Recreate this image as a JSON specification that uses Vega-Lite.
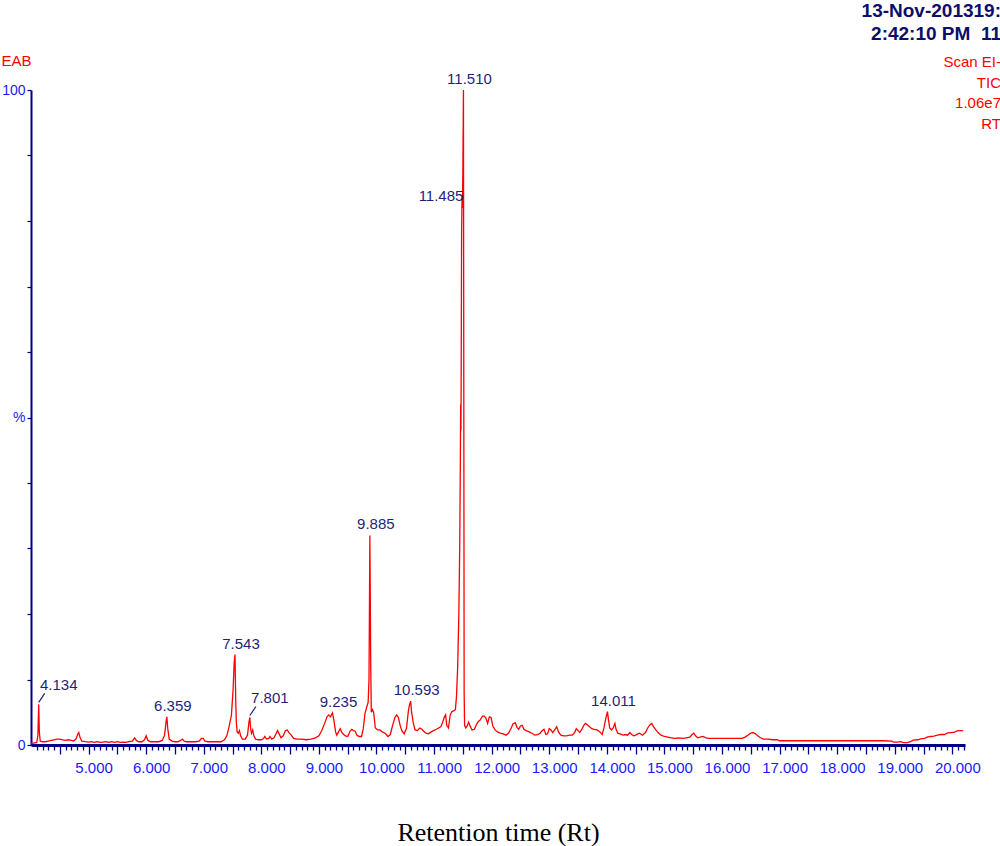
{
  "$schema": "https://vega.github.io/schema/vega-lite/v6.json",
  "width": 934,
  "height": 655,
  "autosize": {"type": "none"},
  "padding": {"left": 31, "top": 90, "right": 35, "bottom": 101},
  "background": "white",
  "config": {"view": {"stroke": null}, "font": "Liberation Sans"},
  "title": {
    "text": ["13-Nov-201319:", "2:42:10 PM\u00a0\u00a011"],
    "subtitle": ["Scan EI-", "TIC", "1.06e7", "RT"],
    "anchor": "end",
    "frame": "group",
    "dx": 36,
    "offset": -79,
    "font": "Liberation Sans",
    "fontSize": 19,
    "fontWeight": "bold",
    "color": "#0d0d6b",
    "lineHeight": 23,
    "subtitleFont": "Liberation Sans",
    "subtitleFontSize": 15,
    "subtitleColor": "#ff0000",
    "subtitleLineHeight": 20.7,
    "subtitlePadding": 11
  },
  "datasets": {
    "tic": [
      {"rt":4.00,"i":0.3},{"rt":4.05,"i":0.3},{"rt":4.10,"i":0.4},{"rt":4.12,"i":1.5},{"rt":4.134,"i":6.2},{"rt":4.145,"i":2.0},{"rt":4.16,"i":0.6},{"rt":4.20,"i":0.5},{"rt":4.25,"i":0.5},{"rt":4.30,"i":0.6},{"rt":4.35,"i":0.7},{"rt":4.40,"i":0.8},{"rt":4.45,"i":0.9},{"rt":4.50,"i":0.9},{"rt":4.55,"i":0.8},{"rt":4.60,"i":0.7},{"rt":4.65,"i":0.8},{"rt":4.70,"i":0.7},{"rt":4.74,"i":0.6},{"rt":4.78,"i":0.9},{"rt":4.81,"i":1.6},{"rt":4.83,"i":1.9},{"rt":4.85,"i":1.2},{"rt":4.88,"i":0.6},{"rt":4.95,"i":0.5},
      {"rt":5.00,"i":0.45},{"rt":5.05,"i":0.5},{"rt":5.10,"i":0.4},{"rt":5.15,"i":0.5},{"rt":5.20,"i":0.4},{"rt":5.25,"i":0.45},{"rt":5.30,"i":0.5},{"rt":5.35,"i":0.4},{"rt":5.40,"i":0.5},{"rt":5.45,"i":0.4},{"rt":5.50,"i":0.5},{"rt":5.55,"i":0.4},{"rt":5.60,"i":0.45},{"rt":5.65,"i":0.4},{"rt":5.70,"i":0.5},{"rt":5.76,"i":0.6},{"rt":5.80,"i":1.1},{"rt":5.83,"i":0.7},{"rt":5.87,"i":0.5},{"rt":5.93,"i":0.5},{"rt":5.97,"i":0.8},
      {"rt":6.00,"i":1.4},{"rt":6.03,"i":0.7},{"rt":6.08,"i":0.5},{"rt":6.15,"i":0.5},{"rt":6.22,"i":0.5},{"rt":6.28,"i":0.7},{"rt":6.32,"i":1.5},{"rt":6.345,"i":3.5},{"rt":6.359,"i":4.3},{"rt":6.375,"i":2.5},{"rt":6.40,"i":0.9},{"rt":6.45,"i":0.6},{"rt":6.50,"i":0.5},{"rt":6.55,"i":0.5},{"rt":6.60,"i":0.7},{"rt":6.63,"i":0.9},{"rt":6.66,"i":0.6},{"rt":6.70,"i":0.5},{"rt":6.75,"i":0.5},{"rt":6.80,"i":0.5},{"rt":6.86,"i":0.5},{"rt":6.92,"i":0.6},{"rt":6.96,"i":1.0},{"rt":6.99,"i":1.0},
      {"rt":7.02,"i":0.6},{"rt":7.08,"i":0.5},{"rt":7.15,"i":0.5},{"rt":7.22,"i":0.5},{"rt":7.30,"i":0.5},{"rt":7.36,"i":0.8},{"rt":7.40,"i":1.4},{"rt":7.44,"i":2.8},{"rt":7.48,"i":4.5},{"rt":7.51,"i":8.5},{"rt":7.528,"i":12.5},{"rt":7.543,"i":13.8},{"rt":7.555,"i":7.0},{"rt":7.565,"i":3.5},{"rt":7.58,"i":2.0},{"rt":7.60,"i":1.8},{"rt":7.62,"i":2.2},{"rt":7.64,"i":1.4},{"rt":7.67,"i":0.9},{"rt":7.72,"i":0.9},{"rt":7.76,"i":1.5},{"rt":7.785,"i":3.5},{"rt":7.801,"i":4.2},{"rt":7.815,"i":2.4},{"rt":7.83,"i":1.8},{"rt":7.85,"i":2.3},{"rt":7.87,"i":1.4},{"rt":7.90,"i":0.9},{"rt":7.95,"i":0.8},
      {"rt":8.00,"i":0.8},{"rt":8.04,"i":1.0},{"rt":8.06,"i":1.3},{"rt":8.09,"i":0.9},{"rt":8.13,"i":1.0},{"rt":8.15,"i":1.3},{"rt":8.18,"i":0.9},{"rt":8.22,"i":1.1},{"rt":8.26,"i":1.8},{"rt":8.28,"i":2.2},{"rt":8.31,"i":1.7},{"rt":8.34,"i":1.1},{"rt":8.38,"i":1.4},{"rt":8.42,"i":2.2},{"rt":8.45,"i":2.3},{"rt":8.48,"i":1.9},{"rt":8.52,"i":1.5},{"rt":8.56,"i":1.0},{"rt":8.62,"i":0.9},{"rt":8.70,"i":0.9},{"rt":8.78,"i":0.8},{"rt":8.86,"i":0.9},{"rt":8.94,"i":1.1},
      {"rt":9.00,"i":1.4},{"rt":9.05,"i":2.2},{"rt":9.10,"i":3.3},{"rt":9.14,"i":4.3},{"rt":9.17,"i":4.6},{"rt":9.20,"i":4.3},{"rt":9.235,"i":4.9},{"rt":9.26,"i":3.8},{"rt":9.29,"i":2.0},{"rt":9.31,"i":1.5},{"rt":9.34,"i":2.0},{"rt":9.37,"i":2.5},{"rt":9.40,"i":1.9},{"rt":9.43,"i":1.6},{"rt":9.46,"i":1.4},{"rt":9.50,"i":1.3},{"rt":9.54,"i":2.1},{"rt":9.57,"i":2.4},{"rt":9.60,"i":2.2},{"rt":9.63,"i":2.1},{"rt":9.66,"i":1.5},{"rt":9.70,"i":1.3},{"rt":9.74,"i":1.3},{"rt":9.77,"i":2.5},{"rt":9.80,"i":4.8},{"rt":9.83,"i":5.8},{"rt":9.855,"i":6.5},{"rt":9.87,"i":10},{"rt":9.885,"i":32.0},{"rt":9.90,"i":12},{"rt":9.91,"i":5.0},{"rt":9.93,"i":5.4},{"rt":9.95,"i":5.0},{"rt":9.98,"i":2.6},
      {"rt":10.02,"i":2.3},{"rt":10.06,"i":2.3},{"rt":10.10,"i":2.0},{"rt":10.15,"i":1.8},{"rt":10.20,"i":1.3},{"rt":10.24,"i":1.6},{"rt":10.28,"i":3.0},{"rt":10.32,"i":4.2},{"rt":10.35,"i":4.6},{"rt":10.38,"i":4.2},{"rt":10.41,"i":3.0},{"rt":10.44,"i":2.2},{"rt":10.48,"i":1.7},{"rt":10.52,"i":2.5},{"rt":10.555,"i":5.3},{"rt":10.575,"i":6.2},{"rt":10.593,"i":6.7},{"rt":10.61,"i":5.0},{"rt":10.64,"i":3.3},{"rt":10.67,"i":2.3},{"rt":10.71,"i":2.2},{"rt":10.75,"i":2.6},{"rt":10.79,"i":2.4},{"rt":10.82,"i":2.1},{"rt":10.86,"i":1.8},{"rt":10.90,"i":1.7},{"rt":10.95,"i":2.0},{"rt":10.99,"i":2.2},
      {"rt":11.04,"i":2.4},{"rt":11.08,"i":2.6},{"rt":11.12,"i":2.8},{"rt":11.15,"i":3.5},{"rt":11.18,"i":4.3},{"rt":11.20,"i":4.6},{"rt":11.22,"i":3.0},{"rt":11.25,"i":2.6},{"rt":11.28,"i":4.6},{"rt":11.31,"i":5.1},{"rt":11.34,"i":5.2},{"rt":11.37,"i":5.4},{"rt":11.39,"i":7.5},{"rt":11.41,"i":12},{"rt":11.43,"i":20},{"rt":11.445,"i":30},{"rt":11.455,"i":42},{"rt":11.462,"i":52},{"rt":11.466,"i":48},{"rt":11.47,"i":55},{"rt":11.478,"i":78},{"rt":11.485,"i":83.5},{"rt":11.492,"i":82},{"rt":11.50,"i":88},{"rt":11.510,"i":100},{"rt":11.516,"i":55},{"rt":11.522,"i":8},{"rt":11.53,"i":3.0},{"rt":11.55,"i":2.6},{"rt":11.58,"i":3.0},{"rt":11.60,"i":3.5},{"rt":11.63,"i":2.8},{"rt":11.66,"i":2.3},{"rt":11.70,"i":2.4},{"rt":11.74,"i":3.2},{"rt":11.77,"i":3.6},{"rt":11.80,"i":3.8},{"rt":11.84,"i":4.4},{"rt":11.87,"i":4.4},{"rt":11.90,"i":4.1},{"rt":11.93,"i":3.3},{"rt":11.96,"i":4.3},{"rt":11.99,"i":4.2},
      {"rt":12.02,"i":2.9},{"rt":12.06,"i":2.3},{"rt":12.10,"i":2.0},{"rt":12.15,"i":1.8},{"rt":12.20,"i":1.7},{"rt":12.25,"i":1.5},{"rt":12.29,"i":1.8},{"rt":12.33,"i":2.4},{"rt":12.37,"i":3.2},{"rt":12.41,"i":3.4},{"rt":12.44,"i":2.7},{"rt":12.47,"i":2.4},{"rt":12.50,"i":2.9},{"rt":12.53,"i":3.0},{"rt":12.56,"i":2.4},{"rt":12.60,"i":2.2},{"rt":12.65,"i":2.0},{"rt":12.70,"i":1.8},{"rt":12.75,"i":1.5},{"rt":12.80,"i":1.6},{"rt":12.84,"i":1.8},{"rt":12.88,"i":2.2},{"rt":12.91,"i":2.4},{"rt":12.94,"i":1.6},{"rt":12.97,"i":1.7},
      {"rt":13.00,"i":2.5},{"rt":13.03,"i":2.3},{"rt":13.06,"i":1.9},{"rt":13.10,"i":2.4},{"rt":13.13,"i":2.8},{"rt":13.16,"i":2.0},{"rt":13.20,"i":1.5},{"rt":13.25,"i":1.4},{"rt":13.30,"i":1.4},{"rt":13.35,"i":1.5},{"rt":13.40,"i":1.5},{"rt":13.44,"i":1.9},{"rt":13.47,"i":2.5},{"rt":13.50,"i":2.2},{"rt":13.53,"i":1.9},{"rt":13.56,"i":2.3},{"rt":13.60,"i":3.0},{"rt":13.63,"i":3.3},{"rt":13.66,"i":3.1},{"rt":13.70,"i":2.8},{"rt":13.74,"i":2.5},{"rt":13.78,"i":2.4},{"rt":13.83,"i":2.3},{"rt":13.88,"i":2.0},{"rt":13.92,"i":1.6},{"rt":13.95,"i":2.6},{"rt":13.98,"i":4.0},
      {"rt":14.011,"i":5.1},{"rt":14.03,"i":3.8},{"rt":14.05,"i":2.6},{"rt":14.08,"i":2.3},{"rt":14.11,"i":2.6},{"rt":14.14,"i":3.3},{"rt":14.16,"i":2.4},{"rt":14.19,"i":1.8},{"rt":14.23,"i":1.7},{"rt":14.28,"i":1.5},{"rt":14.32,"i":1.6},{"rt":14.36,"i":1.5},{"rt":14.40,"i":1.9},{"rt":14.43,"i":1.6},{"rt":14.47,"i":1.4},{"rt":14.50,"i":1.5},{"rt":14.54,"i":1.7},{"rt":14.57,"i":1.8},{"rt":14.62,"i":1.5},{"rt":14.67,"i":1.9},{"rt":14.71,"i":2.6},{"rt":14.75,"i":3.1},{"rt":14.78,"i":3.3},{"rt":14.81,"i":2.8},{"rt":14.85,"i":2.3},{"rt":14.89,"i":1.9},{"rt":14.94,"i":1.5},
      {"rt":15.00,"i":1.3},{"rt":15.06,"i":1.2},{"rt":15.12,"i":1.1},{"rt":15.18,"i":1.0},{"rt":15.25,"i":1.1},{"rt":15.32,"i":1.0},{"rt":15.38,"i":1.1},{"rt":15.44,"i":1.2},{"rt":15.48,"i":1.6},{"rt":15.51,"i":1.8},{"rt":15.54,"i":1.4},{"rt":15.58,"i":1.1},{"rt":15.62,"i":1.2},{"rt":15.67,"i":1.3},{"rt":15.72,"i":1.1},{"rt":15.78,"i":1.0},{"rt":15.85,"i":1.0},{"rt":15.95,"i":1.0},
      {"rt":16.05,"i":1.0},{"rt":16.15,"i":1.0},{"rt":16.25,"i":1.0},{"rt":16.35,"i":1.0},{"rt":16.40,"i":1.2},{"rt":16.45,"i":1.5},{"rt":16.50,"i":1.8},{"rt":16.54,"i":1.9},{"rt":16.58,"i":1.7},{"rt":16.62,"i":1.4},{"rt":16.67,"i":1.1},{"rt":16.72,"i":0.9},{"rt":16.80,"i":0.9},{"rt":16.88,"i":0.8},{"rt":16.96,"i":0.8},
      {"rt":17.00,"i":0.65},{"rt":17.2,"i":0.65},{"rt":17.4,"i":0.65},{"rt":17.6,"i":0.65},{"rt":17.8,"i":0.65},{"rt":18.0,"i":0.65},{"rt":18.2,"i":0.65},{"rt":18.4,"i":0.65},{"rt":18.6,"i":0.65},{"rt":18.8,"i":0.65},{"rt":18.95,"i":0.6},{"rt":18.98,"i":0.45},
      {"rt":19.05,"i":0.45},{"rt":19.10,"i":0.5},{"rt":19.15,"i":0.35},{"rt":19.22,"i":0.35},{"rt":19.27,"i":0.5},{"rt":19.32,"i":0.75},{"rt":19.40,"i":0.8},{"rt":19.45,"i":0.95},{"rt":19.52,"i":1.0},{"rt":19.56,"i":1.2},{"rt":19.62,"i":1.3},{"rt":19.68,"i":1.35},{"rt":19.74,"i":1.5},{"rt":19.80,"i":1.6},{"rt":19.86,"i":1.6},{"rt":19.92,"i":1.85},{"rt":19.98,"i":1.9},
      {"rt":20.04,"i":1.95},{"rt":20.08,"i":2.15},{"rt":20.14,"i":2.2},{"rt":20.19,"i":2.2}
    ],
    "peaks": [
      {"rt":4.134,"i":6.2,"label":"4.134"},
      {"rt":6.359,"i":4.3,"label":"6.359"},
      {"rt":7.543,"i":13.8,"label":"7.543"},
      {"rt":7.801,"i":4.2,"label":"7.801"},
      {"rt":9.235,"i":4.9,"label":"9.235"},
      {"rt":9.885,"i":32.0,"label":"9.885"},
      {"rt":10.593,"i":6.7,"label":"10.593"},
      {"rt":11.485,"i":83.5,"label":"11.485"},
      {"rt":11.510,"i":100,"label":"11.510"},
      {"rt":14.011,"i":5.1,"label":"14.011"}
    ]
  },
  "encoding": {
    "x": {
      "field": "rt",
      "type": "quantitative",
      "scale": {"domain": [4, 20.22], "nice": false, "zero": false},
      "axis": {
        "values": [4.1,4.2,4.3,4.4,4.5,4.6,4.7,4.8,4.9,5,5.1,5.2,5.3,5.4,5.5,5.6,5.7,5.8,5.9,6,6.1,6.2,6.3,6.4,6.5,6.6,6.7,6.8,6.9,7,7.1,7.2,7.3,7.4,7.5,7.6,7.7,7.8,7.9,8,8.1,8.2,8.3,8.4,8.5,8.6,8.7,8.8,8.9,9,9.1,9.2,9.3,9.4,9.5,9.6,9.7,9.8,9.9,10,10.1,10.2,10.3,10.4,10.5,10.6,10.7,10.8,10.9,11,11.1,11.2,11.3,11.4,11.5,11.6,11.7,11.8,11.9,12,12.1,12.2,12.3,12.4,12.5,12.6,12.7,12.8,12.9,13,13.1,13.2,13.3,13.4,13.5,13.6,13.7,13.8,13.9,14,14.1,14.2,14.3,14.4,14.5,14.6,14.7,14.8,14.9,15,15.1,15.2,15.3,15.4,15.5,15.6,15.7,15.8,15.9,16,16.1,16.2,16.3,16.4,16.5,16.6,16.7,16.8,16.9,17,17.1,17.2,17.3,17.4,17.5,17.6,17.7,17.8,17.9,18,18.1,18.2,18.3,18.4,18.5,18.6,18.7,18.8,18.9,19,19.1,19.2,19.3,19.4,19.5,19.6,19.7,19.8,19.9,20,20.1,20.2],
        "labelExpr": "abs(datum.value - round(datum.value)) < 0.001 && datum.value >= 5 ? format(datum.value, '.3f') : ''",
        "title": "Retention time (Rt)",
        "titleFont": "Liberation Serif",
        "titleFontSize": 26,
        "titleFontWeight": "normal",
        "titleColor": "#000000",
        "titlePadding": 44,
        "labelColor": "#1a1aff",
        "labelFont": "Liberation Sans",
        "labelFontSize": 15,
        "labelOffset": 5,
        "labelPadding": 6,
        "labelOverlap": false,
        "labelFlush": false,
        "labelBound": false,
        "tickColor": "#000080",
        "tickWidth": 1.3,
        "tickSize": {"condition": {"test": "abs(datum.value*2 - round(datum.value*2)) < 0.01", "value": 9}, "value": 5},
        "domainColor": "#000080",
        "domainWidth": 3,
        "grid": false
      }
    },
    "y": {
      "field": "i",
      "type": "quantitative",
      "scale": {"domain": [0, 100], "nice": false},
      "axis": {
        "values": [0,10,20,30,40,50,60,70,80,90,100],
        "labelExpr": "datum.value == 50 ? '%' : (datum.value == 0 || datum.value == 100 ? datum.label : '')",
        "title": "EAB",
        "titleAngle": 0,
        "titleAlign": "left",
        "titleBaseline": "middle",
        "titleX": -30,
        "titleY": -30,
        "titleColor": "#ff0000",
        "titleFont": "Liberation Sans",
        "titleFontSize": 15,
        "titleFontWeight": "normal",
        "labelColor": "#1a1aff",
        "labelFont": "Liberation Sans",
        "labelFontSize": 14,
        "labelPadding": 2,
        "labelOverlap": false,
        "labelFlush": false,
        "tickSize": 4,
        "tickColor": "#000080",
        "tickWidth": 1.2,
        "domainColor": "#000080",
        "domainWidth": 2,
        "grid": false
      }
    }
  },
  "layer": [
    {
      "data": {"name": "tic"},
      "mark": {"type": "line", "color": "#ff0000", "strokeWidth": 1.3}
    },
    {
      "data": {"name": "peaks"},
      "transform": [{"filter": "indexof(['4.134','7.801','11.485'], datum.label) < 0"}],
      "mark": {"type": "text", "font": "Liberation Sans", "fontSize": 15, "color": "#1f1f7a", "dx": 6, "dy": -11, "align": "center", "baseline": "middle"},
      "encoding": {"text": {"field": "label"}}
    },
    {
      "data": {"name": "peaks"},
      "transform": [{"filter": "datum.label == '4.134' || datum.label == '7.801'"}],
      "mark": {"type": "text", "font": "Liberation Sans", "fontSize": 15, "color": "#1f1f7a", "dx": 20, "dy": -19, "align": "center", "baseline": "middle"},
      "encoding": {"text": {"field": "label"}}
    },
    {
      "data": {"name": "peaks"},
      "transform": [{"filter": "datum.label == '4.134' || datum.label == '7.801'"}],
      "mark": {"type": "point", "shape": "M0,-0.4L1.2,-2.2", "size": 100, "filled": false, "stroke": "#1f1f7a", "strokeWidth": 1.2, "opacity": 1}
    },
    {
      "data": {"name": "peaks"},
      "transform": [{"filter": "datum.label == '11.485'"}],
      "mark": {"type": "text", "font": "Liberation Sans", "fontSize": 15, "color": "#1f1f7a", "dx": -21, "dy": -2, "align": "center", "baseline": "middle"},
      "encoding": {"text": {"field": "label"}}
    },
    {
      "data": {"values": [{}]},
      "mark": {"type": "text", "text": "rt", "font": "Liberation Sans", "fontSize": 16, "color": "#1a1a5e", "dx": 3, "dy": 2, "align": "left", "baseline": "middle"},
      "encoding": {"x": {"datum": 20.22, "type": "quantitative"}, "y": {"datum": 0, "type": "quantitative"}}
    }
  ]
}
